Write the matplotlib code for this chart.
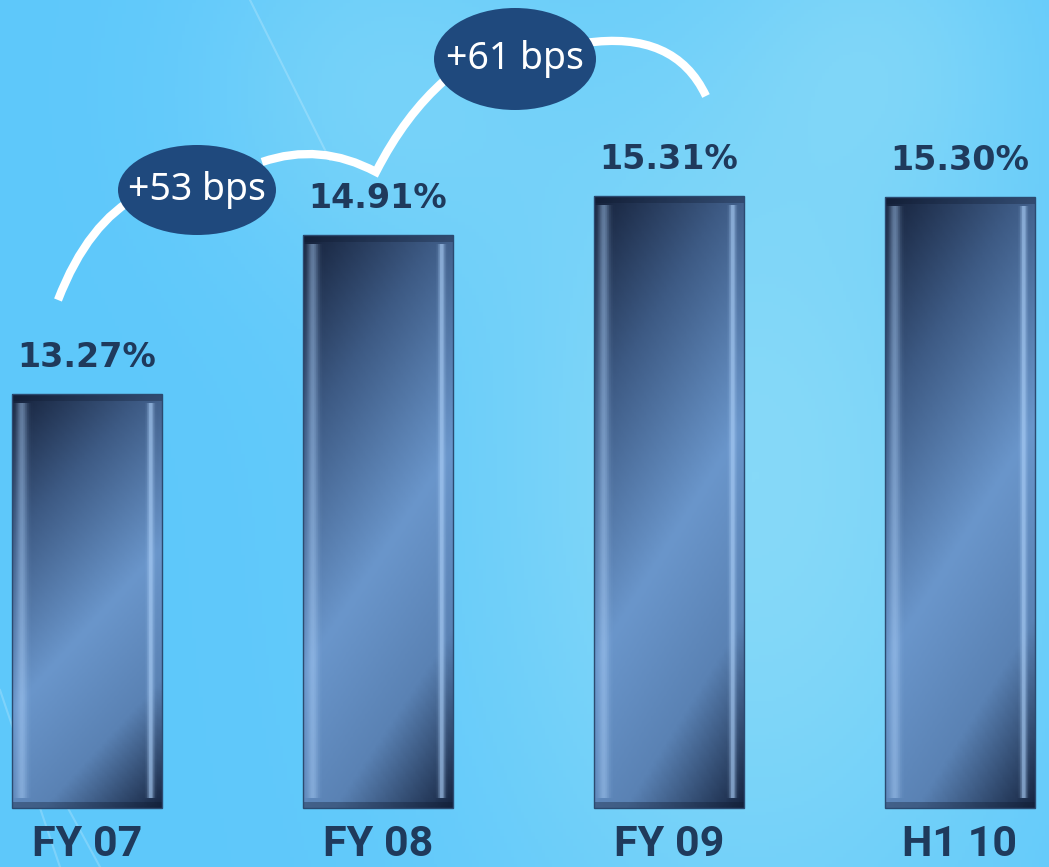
import numpy as np
import matplotlib.pyplot as plt
from matplotlib.colors import LinearSegmentedColormap, to_rgb
from matplotlib.patches import Ellipse, PathPatch, Rectangle
from matplotlib.path import Path

categories = ["FY 07", "FY 08", "FY 09", "H1 10"]
values = [13.27, 14.91, 15.31, 15.30]
value_labels = ["13.27%", "14.91%", "15.31%", "15.30%"]
changes = ["+53 bps", "+61 bps"]

# layout (the chart does not start at zero)
BASE = 9.0
PX_PER_UNIT = 97.0
BAR_W = 0.515
X0_PX, STEP_PX, BASE_PX = 87.0, 291.0, 808.0
W, H = 1049, 867

NAVY = "#1f3a5c"
BADGE = "#1f497d"


def px(xp, yp):
    """pixel position -> data coordinates"""
    return ((xp - X0_PX) / STEP_PX, BASE + (BASE_PX - yp) / PX_PER_UNIT)


fig = plt.figure(figsize=(W / 100, H / 100), dpi=100)
ax = fig.add_axes([0, 0, 1, 1])
xmin, ymax = px(0, 0)
xmax, ymin = px(W, H)
ax.set_xlim(xmin, xmax)
ax.set_ylim(ymin, ymax)
ax.axis("off")

# background: light sky blue with a soft brighter zone
gx, gy = np.meshgrid(np.linspace(0, 1, 300), np.linspace(0, 1, 250))
c_lo = np.array(to_rgb("#5ec8fb"))
c_hi = np.array(to_rgb("#86d9f8"))
glow = np.exp(-((gx - 0.72) ** 2) / 0.08 - ((gy - 0.55) ** 2) / 0.35)
glow += 0.5 * np.exp(-((gx - 0.35) ** 2) / 0.03 - ((gy - 0.1) ** 2) / 0.05)
glow += 0.4 * np.exp(-((gx - 0.85) ** 2) / 0.02 - ((gy - 0.05) ** 2) / 0.03)
glow = np.clip(glow, 0, 1)[..., None]
bg = c_lo * (1 - glow) + c_hi * glow
ax.imshow(bg, extent=(xmin, xmax, ymin, ymax), aspect="auto", origin="upper", zorder=0)

# faint background streaks
for (x1, y1), (x2, y2) in [((0, 690), (60, 867)), ((20, 720), (100, 867)), ((250, 0), (330, 160))]:
    (a, b), (c, d) = px(x1, y1), px(x2, y2)
    ax.plot([a, c], [b, d], color="white", lw=1.5, alpha=0.2, zorder=1)

x = np.arange(len(categories))
heights = np.array(values) - BASE
bars = ax.bar(x, heights, bottom=BASE, width=BAR_W, facecolor="none", edgecolor="none", zorder=3)

bar_cmap = LinearSegmentedColormap.from_list(
    "bar",
    [(0.0, "#15213a"), (0.25, "#3d5a84"), (0.55, "#6a96cb"), (0.78, "#5a82b4"), (1.0, "#172642")],
)
bx, by = np.meshgrid(np.linspace(0, 1, 60), np.linspace(0, 1, 220))
tval = 0.72 * by + 0.28 * bx

# soft vertical highlight bands near both edges
edge = np.linspace(0, 1, 80)
band = 0.5 * np.exp(-((edge - 0.06) / 0.035) ** 2) + 0.75 * np.exp(-((edge - 0.93) / 0.02) ** 2)
band_rgba = np.zeros((1, edge.size, 4))
band_rgba[..., :3] = to_rgb("#a9cdf6")
band_rgba[..., 3] = band

for bar in bars:
    x0, y0 = bar.get_x(), bar.get_y()
    bw, bh = bar.get_width(), bar.get_height()
    im = ax.imshow(tval, cmap=bar_cmap, vmin=0, vmax=1, extent=(x0, x0 + bw, y0, y0 + bh),
                   aspect="auto", origin="upper", zorder=3)
    im.set_clip_path(bar)
    hl = ax.imshow(band_rgba, extent=(x0, x0 + bw, y0 + 0.1, y0 + bh - 0.1),
                   aspect="auto", origin="upper", zorder=4)
    hl.set_clip_path(bar)
    ax.add_patch(Rectangle((x0, y0 + bh - 0.07), bw, 0.07, color="#0f1a30", alpha=0.3, lw=0, zorder=4))
    ax.add_patch(Rectangle((x0, y0), bw, 0.06, color="#0f1a30", alpha=0.35, lw=0, zorder=4))
    ax.add_patch(Rectangle((x0, y0), bw, bh, fill=False, ec="#2b4a70", lw=1.0, zorder=4))

for xi, v, lab in zip(x, values, value_labels):
    ax.annotate(lab, (xi, v), xytext=(0, 14), textcoords="offset points", ha="center", va="bottom",
                fontsize=24, fontweight="bold", color=NAVY, family="DejaVu Sans", zorder=6)

for xi, cat in zip(x, categories):
    ax.text(xi, BASE - 36 / PX_PER_UNIT, cat, ha="center", va="center", fontsize=31, fontweight="bold",
            color=NAVY, family=["Roboto", "DejaVu Sans"], zorder=6)

# white connector arcs between badges
verts = [px(58, 300), px(88, 222), px(140, 195),
         px(262, 162), px(320, 142), px(376, 172),
         px(405, 115), px(445, 80),
         px(585, 43), px(675, 30), px(706, 96)]
codes = [Path.MOVETO, Path.CURVE3, Path.CURVE3,
         Path.MOVETO, Path.CURVE3, Path.CURVE3,
         Path.CURVE3, Path.CURVE3,
         Path.MOVETO, Path.CURVE3, Path.CURVE3]
ax.add_patch(PathPatch(Path(verts, codes), fill=False, ec="white", lw=6, capstyle="butt",
                       joinstyle="miter", zorder=5))

badge_pos = [px(197, 190), px(515, 59)]
badge_size = [(158 / STEP_PX, 90 / PX_PER_UNIT), (162 / STEP_PX, 102 / PX_PER_UNIT)]
for (bxc, byc), (ew, eh), txt in zip(badge_pos, badge_size, changes):
    ax.add_patch(Ellipse((bxc, byc), ew, eh, color=BADGE, lw=0, zorder=6))
    ax.text(bxc, byc, txt, ha="center", va="center", fontsize=27, color="white",
            family=["Noto Sans", "DejaVu Sans"], zorder=7)

fig.savefig("out.png", dpi=100)
